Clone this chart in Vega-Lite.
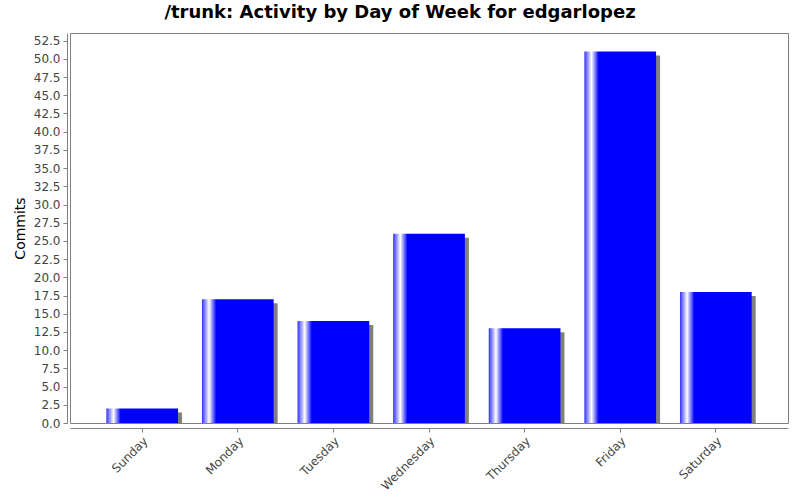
{
  "$schema": "https://vega.github.io/schema/vega-lite/v6.json",
  "width": 718,
  "height": 390,
  "autosize": "none",
  "padding": {"left": 70, "top": 33, "right": 12, "bottom": 77},
  "background": "white",
  "title": {
    "text": "/trunk: Activity by Day of Week for edgarlopez",
    "font": "DejaVu Sans",
    "fontSize": 18,
    "fontWeight": "bold",
    "color": "black",
    "anchor": "middle",
    "dx": -29,
    "offset": 11
  },
  "config": {
    "view": {"stroke": "#808080", "strokeWidth": 1},
    "axis": {
      "labelFont": "DejaVu Sans",
      "labelFontSize": 12,
      "labelColor": "#444444",
      "titleFont": "DejaVu Sans",
      "titleFontSize": 14,
      "titleFontWeight": "normal",
      "titleColor": "black",
      "domainColor": "#808080",
      "tickColor": "#808080",
      "grid": false
    }
  },
  "data": {
    "values": [
      {"day": "Sunday", "commits": 2},
      {"day": "Monday", "commits": 17},
      {"day": "Tuesday", "commits": 14},
      {"day": "Wednesday", "commits": 26},
      {"day": "Thursday", "commits": 13},
      {"day": "Friday", "commits": 51},
      {"day": "Saturday", "commits": 18}
    ]
  },
  "encoding": {
    "x": {
      "field": "day",
      "type": "nominal",
      "sort": null,
      "scale": {"paddingInner": 0.25, "paddingOuter": 0.38},
      "axis": {"title": null, "labelAngle": -45, "offset": 5, "tickSize": 4, "labelPadding": 3}
    },
    "y": {
      "field": "commits",
      "type": "quantitative",
      "scale": {"domain": [0, 53.55], "nice": false},
      "axis": {"title": "Commits", "values": [0,2.5,5,7.5,10,12.5,15,17.5,20,22.5,25,27.5,30,32.5,35,37.5,40,42.5,45,47.5,50,52.5], "format": ".1f", "offset": 3, "tickSize": 4, "labelPadding": 3, "titlePadding": 6}
    }
  },
  "layer": [
    {
      "mark": {"type": "bar", "color": "#808080", "xOffset": 4, "yOffset": 4, "clip": true}
    },
    {
      "mark": {
        "type": "bar",
        "clip": true,
        "color": {
          "gradient": "linear",
          "x1": 0, "x2": 1, "y1": 0, "y2": 0,
          "stops": [
            {"offset": 0, "color": "#3030ff"},
            {"offset": 0.1, "color": "#ffffff"},
            {"offset": 0.2, "color": "#0000ff"},
            {"offset": 1, "color": "#0000ff"}
          ]
        }
      }
    }
  ]
}
